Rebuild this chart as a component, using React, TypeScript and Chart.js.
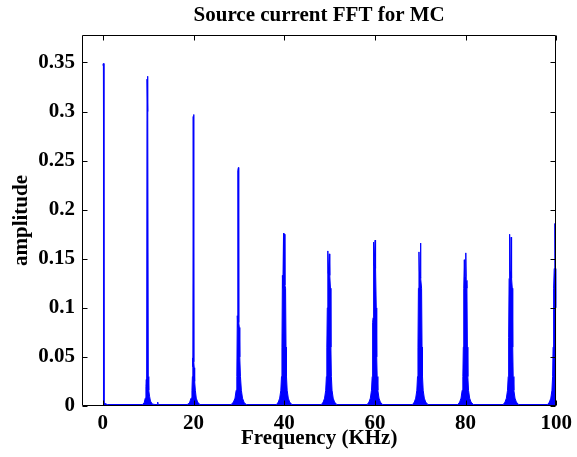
import React, { useEffect, useRef } from "react";
import { Chart, registerables } from "chart.js";

Chart.register(...registerables);

const TITLE = "Source current FFT for MC";
const X_LABEL = "Frequency (KHz)";
const Y_LABEL = "amplitude";

const xTicks = [0, 20, 40, 60, 80, 100];
const yTicks = [0, 0.05, 0.1, 0.15, 0.2, 0.25, 0.3, 0.35];
const X_MIN = -4.6;
const X_MAX = 100;
const Y_MIN = 0;
const Y_MAX = 0.378;

// FFT spectrum, [frequency kHz, amplitude], one cluster per harmonic
const h0: [number, number][] = [
  [0, 0.347], [0.12, 0.349], [0.25, 0.004], [0.5, 0.0025], [1.0, 0.0015],
];
const h10: [number, number][] = [
  [8.7, 0.0015], [9.1, 0.003], [9.35, 0.008], [9.5, 0.02], [9.58, 0.027], [9.66, 0.02],
  [9.74, 0.333], [9.84, 0.3], [9.94, 0.336], [10.02, 0.03], [10.12, 0.016], [10.3, 0.01],
  [10.5, 0.005], [10.9, 0.002], [11.5, 0.0015], [12.0, 0.0015], [12.1, 0.004], [12.2, 0.0015],
];
const h20: [number, number][] = [
  [18.6, 0.0015], [19.1, 0.003], [19.45, 0.008], [19.65, 0.016], [19.75, 0.03], [19.82, 0.049],
  [19.88, 0.04], [19.93, 0.295], [20.03, 0.297], [20.08, 0.045], [20.15, 0.039], [20.25, 0.025],
  [20.4, 0.016], [20.6, 0.008], [20.9, 0.004], [21.4, 0.0015],
];
const h30: [number, number][] = [
  [28.3, 0.0015], [28.8, 0.004], [29.15, 0.008], [29.4, 0.016], [29.55, 0.03], [29.65, 0.092],
  [29.73, 0.08], [29.8, 0.24], [29.9, 0.243], [29.97, 0.085], [30.1, 0.08], [30.2, 0.05],
  [30.35, 0.03], [30.55, 0.016], [30.8, 0.008], [31.2, 0.003], [31.7, 0.0015],
];
const h40: [number, number][] = [
  [38.3, 0.0015], [38.7, 0.004], [39.0, 0.008], [39.25, 0.016], [39.4, 0.03], [39.5, 0.06],
  [39.6, 0.133], [39.7, 0.12], [39.85, 0.176], [39.95, 0.12], [40.08, 0.175], [40.15, 0.123],
  [40.3, 0.12], [40.4, 0.06], [40.5, 0.03], [40.65, 0.016], [40.9, 0.008], [41.2, 0.004],
  [41.7, 0.0015],
];
const h50: [number, number][] = [
  [48.2, 0.0015], [48.6, 0.004], [48.9, 0.008], [49.15, 0.016], [49.3, 0.03], [49.4, 0.06],
  [49.5, 0.1], [49.62, 0.158], [49.72, 0.135], [49.85, 0.135], [49.95, 0.155], [50.05, 0.133],
  [50.2, 0.12], [50.3, 0.06], [50.4, 0.03], [50.55, 0.016], [50.8, 0.008], [51.1, 0.004],
  [51.6, 0.0015],
];
const h60: [number, number][] = [
  [58.3, 0.0015], [58.7, 0.004], [59.0, 0.008], [59.25, 0.016], [59.4, 0.03], [59.5, 0.085],
  [59.6, 0.09], [59.72, 0.167], [59.82, 0.143], [59.95, 0.143], [60.05, 0.169], [60.15, 0.14],
  [60.3, 0.1], [60.4, 0.05], [60.5, 0.03], [60.65, 0.016], [60.9, 0.008], [61.2, 0.004],
  [61.7, 0.0015],
];
const h70: [number, number][] = [
  [68.3, 0.0015], [68.7, 0.004], [69.0, 0.008], [69.25, 0.016], [69.4, 0.03], [69.5, 0.06],
  [69.6, 0.12], [69.72, 0.157], [69.82, 0.137], [69.95, 0.137], [70.05, 0.166], [70.15, 0.13],
  [70.3, 0.12], [70.4, 0.06], [70.5, 0.03], [70.65, 0.016], [70.9, 0.008], [71.2, 0.004],
  [71.7, 0.0015],
];
const h80: [number, number][] = [
  [78.3, 0.0015], [78.7, 0.004], [79.0, 0.008], [79.25, 0.016], [79.4, 0.03], [79.5, 0.06],
  [79.6, 0.12], [79.72, 0.149], [79.82, 0.132], [79.95, 0.132], [80.05, 0.156], [80.15, 0.128],
  [80.3, 0.12], [80.4, 0.06], [80.5, 0.03], [80.65, 0.016], [80.9, 0.008], [81.2, 0.004],
  [81.7, 0.0015],
];
const h90: [number, number][] = [
  [88.3, 0.0015], [88.7, 0.004], [89.0, 0.008], [89.25, 0.016], [89.4, 0.03], [89.5, 0.07],
  [89.6, 0.13], [89.72, 0.175], [89.82, 0.137], [89.95, 0.128], [90.05, 0.172], [90.15, 0.13],
  [90.3, 0.12], [90.4, 0.06], [90.5, 0.03], [90.65, 0.016], [90.9, 0.008], [91.2, 0.004],
  [91.7, 0.0015],
];
const h100: [number, number][] = [
  [98.1, 0.0015], [98.5, 0.004], [98.8, 0.008], [99.05, 0.016], [99.2, 0.03], [99.3, 0.06],
  [99.42, 0.12], [99.55, 0.14], [99.7, 0.186], [99.8, 0.14], [99.95, 0.14], [100.1, 0.1],
];

const spectrum = [h0, h10, h20, h30, h40, h50, h60, h70, h80, h90, h100];

const FONT = "'Liberation Serif', 'Times New Roman', serif";
const TICK_LEN = 5;

const boxPlugin = {
  id: "matlabBox",
  afterDraw(chart: any) {
    const { ctx, chartArea } = chart;
    const xs = chart.scales.x;
    const ys = chart.scales.y;
    const l = Math.round(chartArea.left) + 0.5;
    const r = Math.round(chartArea.right) - 0.5;
    const t = Math.round(chartArea.top) + 0.5;
    const b = Math.round(chartArea.bottom) - 0.5;
    ctx.save();
    ctx.strokeStyle = "#000";
    ctx.lineWidth = 1;
    ctx.beginPath();
    ctx.rect(l, t, r - l, b - t);
    ctx.stroke();
    ctx.beginPath();
    xs.ticks.forEach((tk: any) => {
      const px = Math.round(xs.getPixelForValue(tk.value)) + 0.5;
      ctx.moveTo(px, b);
      ctx.lineTo(px, b - TICK_LEN);
      ctx.moveTo(px, t);
      ctx.lineTo(px, t + TICK_LEN);
    });
    ys.ticks.forEach((tk: any) => {
      const py = Math.round(ys.getPixelForValue(tk.value)) + 0.5;
      ctx.moveTo(l, py);
      ctx.lineTo(l + TICK_LEN, py);
      ctx.moveTo(r, py);
      ctx.lineTo(r - TICK_LEN, py);
    });
    ctx.stroke();
    // title centred over the plot box
    ctx.fillStyle = "#000";
    ctx.font = `bold 21px ${FONT}`;
    ctx.textAlign = "center";
    ctx.textBaseline = "middle";
    ctx.fillText(TITLE, (chartArea.left + chartArea.right) / 2, 16);
    ctx.restore();
  },
};

export default function App() {
  const ref = useRef<HTMLCanvasElement | null>(null);

  useEffect(() => {
    if (!ref.current) return;
    const points = spectrum.flat().map(([x, y]) => ({ x, y }));
    const chart = new Chart(ref.current, {
      type: "line",
      data: {
        datasets: [
          {
            label: "FFT",
            data: points,
            borderColor: "#0000ff",
            backgroundColor: "#0000ff",
            borderWidth: 1,
            pointRadius: 0,
            fill: "origin",
            tension: 0,
          },
        ],
      },
      options: {
        animation: false,
        responsive: false,
        maintainAspectRatio: false,
        layout: { padding: { top: 35, right: 19, bottom: 0, left: 0 } },
        plugins: {
          legend: { display: false },
          tooltip: { enabled: false },
          title: { display: false, text: TITLE },
        },
        scales: {
          x: {
            type: "linear",
            min: X_MIN,
            max: X_MAX,
            afterBuildTicks: (s: any) => {
              s.ticks = xTicks.map((v) => ({ value: v }));
            },
            afterFit: (s: any) => {
              s.height = 51;
            },
            grid: { display: false, drawTicks: false },
            border: { display: false },
            ticks: {
              color: "#000",
              padding: 5,
              maxRotation: 0,
              autoSkip: false,
              font: { family: FONT, size: 21, weight: "bold" },
              callback: (v: any) => String(v),
            },
            title: {
              display: true,
              text: X_LABEL,
              color: "#000",
              font: { family: FONT, size: 21, weight: "bold", lineHeight: 1.2 },
              padding: { top: 0, bottom: 6 },
            },
          },
          y: {
            type: "linear",
            min: Y_MIN,
            max: Y_MAX,
            afterBuildTicks: (s: any) => {
              s.ticks = yTicks.map((v) => ({ value: v }));
            },
            afterFit: (s: any) => {
              s.width = 82;
            },
            grid: { display: false, drawTicks: false },
            border: { display: false },
            ticks: {
              color: "#000",
              padding: 7,
              autoSkip: false,
              font: { family: FONT, size: 21, weight: "bold" },
              callback: (v: any) => String(+Number(v).toFixed(2)),
            },
            title: {
              display: true,
              text: Y_LABEL,
              color: "#000",
              font: { family: FONT, size: 21, weight: "bold", lineHeight: 1.2 },
              padding: { top: 8.7, bottom: 0 },
            },
          },
        },
      },
      plugins: [boxPlugin],
    });
    return () => chart.destroy();
  }, []);

  return (
    <div style={{ position: "absolute", left: 0, top: 0, width: 577, height: 457, background: "#fff" }}>
      <canvas ref={ref} width={577} height={457} style={{ display: "block" }} />
    </div>
  );
}
